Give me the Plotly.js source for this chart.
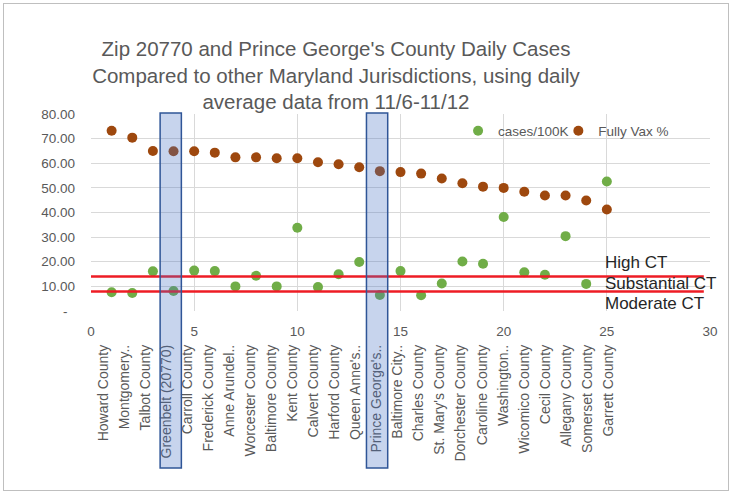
<!DOCTYPE html>
<html>
<head>
<meta charset="utf-8">
<script src="https://cdn.plot.ly/plotly-3.0.1.min.js"></script>
<style>
html,body{margin:0;padding:0;background:#fff;}
#chart{position:absolute;left:0;top:0;width:732px;height:495px;}
#frame{position:absolute;left:3px;top:3px;width:724px;height:486px;border:1px solid #bfbfbf;pointer-events:none;}
</style>
</head>
<body>
<div id="chart"></div>
<div id="frame"></div>
<script>
// ---- data ----
const jurisdictions = ["Howard County","Montgomery..","Talbot County","Greenbelt (20770)","Carroll County",
  "Frederick County","Anne Arundel..","Worcester County","Baltimore County","Kent County","Calvert County",
  "Harford County","Queen Anne's..","Prince George's..","Baltimore City..","Charles County","St. Mary's County",
  "Dorchester County","Caroline County","Washington..","Wicomico County","Cecil County","Allegany County",
  "Somerset County","Garrett County"];
const rank = [1,2,3,4,5,6,7,8,9,10,11,12,13,14,15,16,17,18,19,20,21,22,23,24,25];
const casesPer100K = [7.6,7.3,16.1,8.1,16.4,16.2,10.0,14.3,10.0,33.8,9.7,14.9,19.9,6.5,16.2,6.4,11.2,20.1,19.2,38.2,15.7,14.7,30.4,11.0,52.6];
const fullyVaxPct = [73.2,70.4,65.0,64.9,64.9,64.3,62.4,62.4,62.0,62.0,60.4,59.6,58.4,56.8,56.4,55.8,53.8,51.9,50.5,50.0,48.4,46.9,46.9,44.9,41.2];
const thresholdX = [0, 29.7];
const highCT = 14.0;
const substantialCT = 7.9;
const thresholdLabels = ["High CT","Substantial CT","Moderate CT"];
const thresholdLabelY = [19.8,11.0,3.2];
const highlighted = ["Greenbelt (20770)","Prince George's.."];
const yTickVals = [0,10,20,30,40,50,60,70,80];
const yTickText = ["-\u00a0\u00a0","10.00","20.00","30.00","40.00","50.00","60.00","70.00","80.00"];

const FONT = "Liberation Sans, Arial, sans-serif";
const GREY = "#595959";

const traces = [
  {x: rank, y: casesPer100K, name: "cases/100K", type: "scatter", mode: "markers",
   marker: {color: "#70ad47", size: 10}, legend: "legend"},
  {x: rank, y: fullyVaxPct, name: "Fully Vax %", type: "scatter", mode: "markers",
   marker: {color: "#9e480e", size: 10}, legend: "legend2"},
  {x: thresholdX, y: thresholdX.map(() => highCT), type: "scatter", mode: "lines",
   line: {color: "#ee1c25", width: 2.5}, showlegend: false, hoverinfo: "skip"},
  {x: thresholdX, y: thresholdX.map(() => substantialCT), type: "scatter", mode: "lines",
   line: {color: "#ee1c25", width: 2.5}, showlegend: false, hoverinfo: "skip"},
  {x: [0], y: [null], xaxis: "x2", yaxis: "y", type: "scatter", mode: "markers",
   showlegend: false, hoverinfo: "skip"}
];

const shapes = highlighted.map(name => {
  const px = rank[jurisdictions.indexOf(name)];
  return {type: "rect", xref: "x", yref: "paper", x0: px - 0.65, x1: px + 0.38, y0: -0.797, y1: 1.005,
    fillcolor: "rgba(68,114,196,0.3)", line: {color: "#2f5597", width: 1.5}, layer: "above"};
});

const annotations = thresholdLabels.map((t, i) => ({
  text: t, x: 24.8, y: thresholdLabelY[i], xref: "x", yref: "y", xanchor: "left", yanchor: "middle",
  showarrow: false, font: {family: FONT, size: 17, color: "#262626"}
}));

const legendStyle = {orientation: "h", y: 0.914, xanchor: "left", yanchor: "middle",
  bgcolor: "rgba(0,0,0,0)", font: {family: FONT, size: 13.5, color: GREY}, itemwidth: 30};

const layout = {
  width: 732, height: 495,
  margin: {l: 91, r: 22, t: 114, b: 184},
  paper_bgcolor: "#ffffff", plot_bgcolor: "#ffffff",
  font: {family: FONT, color: GREY, size: 13},
  title: {
    text: "Zip 20770 and Prince George's County Daily Cases<br>Compared to other Maryland Jurisdictions, using daily<br>average data from 11/6-11/12",
    font: {family: FONT, size: 20.5, color: GREY},
    x: 0.459, xanchor: "center", xref: "container",
    y: 0.887, yanchor: "middle", yref: "container"
  },
  xaxis: {range: [0, 30], tickvals: [0,5,10,15,20,25,30], showgrid: true, gridcolor: "#d9d9d9",
    zeroline: false, showline: false, ticks: "", ticklabelstandoff: 10,
    tickfont: {family: FONT, size: 13.5, color: GREY}},
  xaxis2: {overlaying: "x", side: "bottom", anchor: "y", range: [-0.585, 28.84],
    tickmode: "array", tickvals: jurisdictions.map((_, i) => i), ticktext: jurisdictions,
    tickangle: -90, showgrid: false, zeroline: false, showline: false, ticks: "",
    ticklabelstandoff: 30, tickfont: {family: FONT, size: 14, color: GREY}},
  yaxis: {range: [0, 80], tickvals: yTickVals, ticktext: yTickText, showgrid: true, gridcolor: "#d9d9d9",
    zeroline: false, showline: false, ticks: "", ticklabelstandoff: 15,
    tickfont: {family: FONT, size: 13.5, color: GREY}},
  legend: Object.assign({x: 0.593}, legendStyle),
  legend2: Object.assign({x: 0.755}, legendStyle),
  shapes: shapes,
  annotations: annotations
};

Plotly.newPlot("chart", traces, layout, {displayModeBar: false, staticPlot: true});
</script>
</body>
</html>
